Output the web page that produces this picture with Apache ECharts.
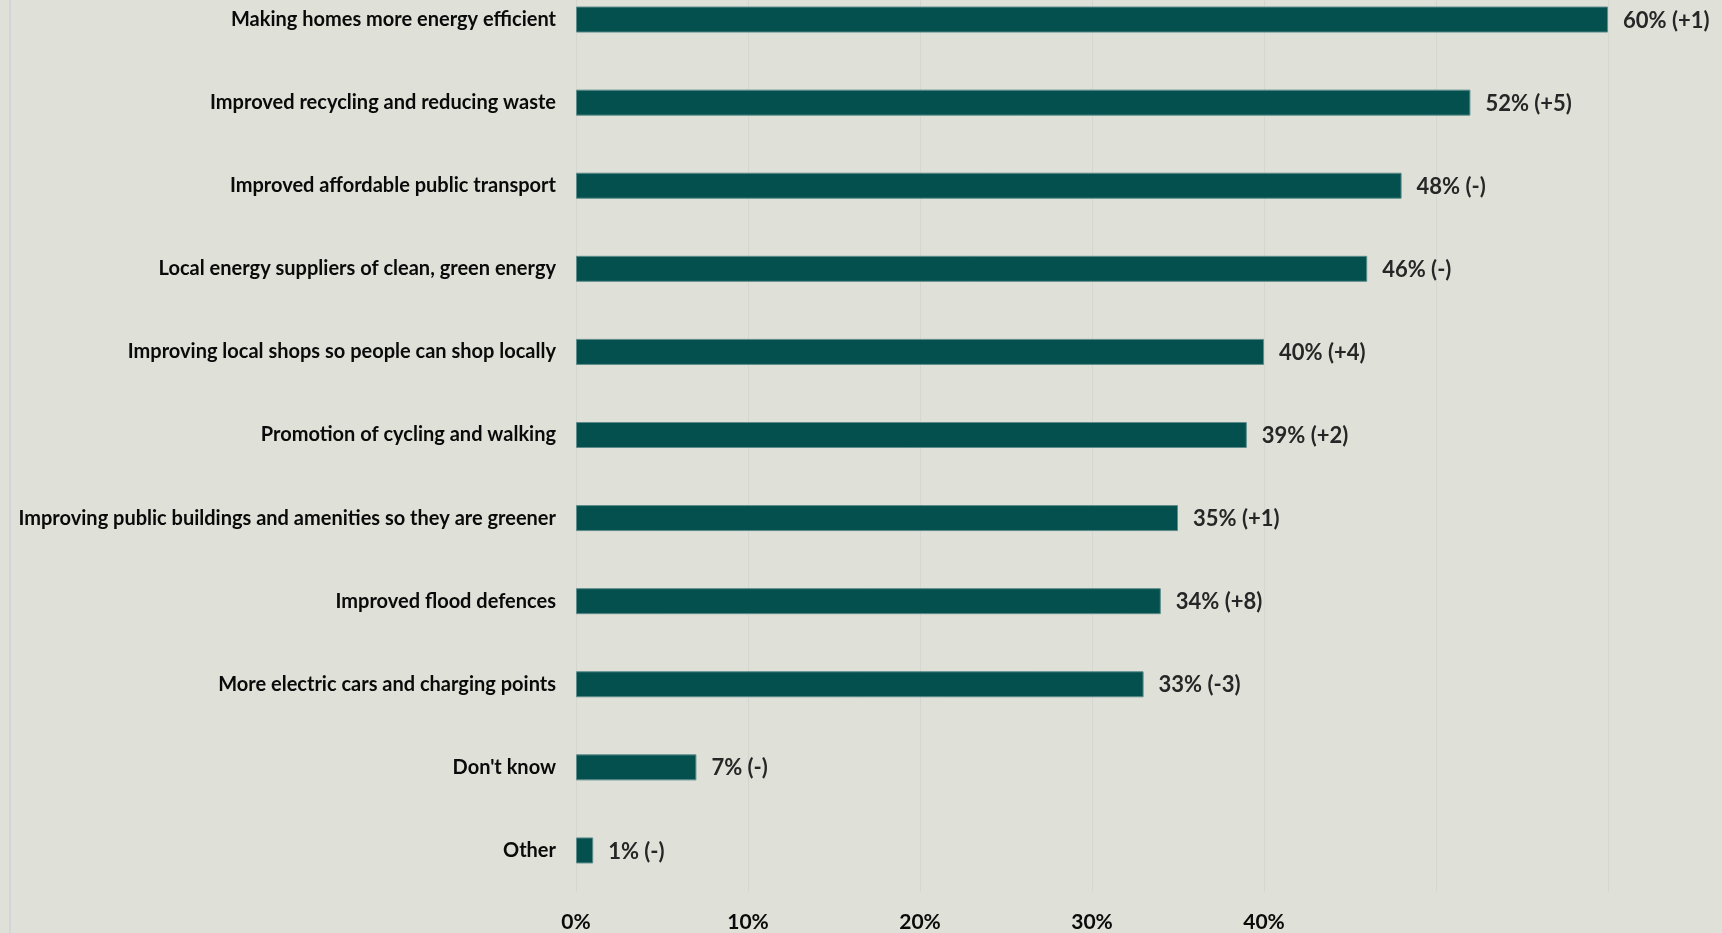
<!DOCTYPE html>
<html>
<head>
<meta charset="utf-8">
<script src="https://cdn.jsdelivr.net/npm/echarts@6/dist/echarts.min.js"></script>
<style>
html,body{margin:0;padding:0;background:#dfe0d8;overflow:hidden;}
#wrap{position:relative;width:1722px;height:933px;overflow:hidden;}
#chart{position:absolute;left:0;top:-22px;width:1722px;height:955px;}
#edge{position:absolute;left:9px;top:0;width:2px;height:933px;background:#d2d4d6;}
</style>
</head>
<body>
<div id="wrap"><div id="chart"></div><div id="edge"></div></div>
<script>
const categories = [
  "Making homes more energy efficient",
  "Improved recycling and reducing waste",
  "Improved affordable public transport",
  "Local energy suppliers of clean, green energy",
  "Improving local shops so people can shop locally",
  "Promotion of cycling and walking",
  "Improving public buildings and amenities so they are greener",
  "Improved flood defences",
  "More electric cars and charging points",
  "Don't know",
  "Other"
];
const values = [60, 52, 48, 46, 40, 39, 35, 34, 33, 7, 1];
const changes = ["+1", "+5", "-", "-", "+4", "+2", "+1", "+8", "-3", "-", "-"];
const tickLabels = ["0%", "10%", "20%", "30%", "40%"];

const chart = echarts.init(document.getElementById('chart'));
chart.setOption({
  backgroundColor: '#dfe0d8',
  animation: false,
  grid: {left: 576, width: 1032, top: 0, height: 917, containLabel: false},
  xAxis: {
    type: 'value', min: 0, max: 60, interval: 10,
    axisLine: {show: false}, axisTick: {show: false},
    splitLine: {show: true, lineStyle: {color: '#d5d6d0', width: 1}},
    axisLabel: {
      margin: 20,
      fontFamily: 'Lato', fontWeight: 'bold', fontSize: 21, color: '#0a0a0a',
      formatter: function (v) { const i = Math.round(v / 10); return i < tickLabels.length ? tickLabels[i] : ''; }
    }
  },
  yAxis: {
    type: 'category', inverse: true, data: categories,
    axisLine: {show: false}, axisTick: {show: false},
    axisLabel: {margin: 20, fontFamily: 'Lato', fontWeight: 'bold', fontSize: 20, color: '#0a0a0a'}
  },
  series: [{
    type: 'bar',
    data: values,
    barWidth: 26,
    itemStyle: {color: '#03504f', borderColor: '#5d8c8a', borderWidth: 1},
    label: {
      show: true, position: 'right', distance: 15, offset: [0, 1],
      fontFamily: 'Lato', fontWeight: 'bold', fontSize: 22, color: '#262626',
      formatter: function (p) { return values[p.dataIndex] + '% (' + changes[p.dataIndex] + ')'; }
    }
  }]
});
</script>
</body>
</html>
